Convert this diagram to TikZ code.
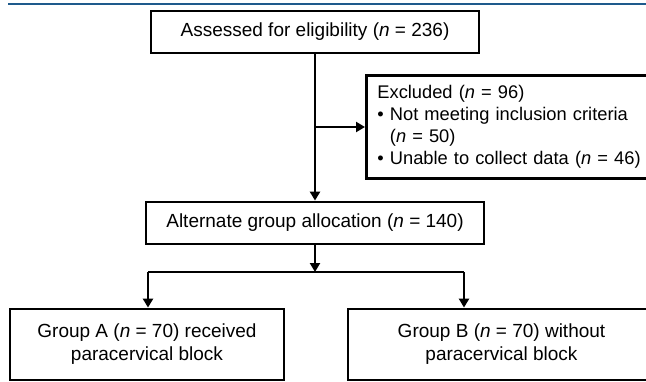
\documentclass[tikz,border=0pt]{standalone}
\usepackage{fontspec}
\setmainfont{Liberation Sans}
\usetikzlibrary{arrows.meta}
\definecolor{rulerblue}{RGB}{30,90,140}
\begin{document}
\begin{tikzpicture}[x=1pt,y=-1pt,
  box/.style={draw, line width=2.8pt, inner sep=0pt, align=center,
    font=\fontsize{19}{23}\selectfont},
  conn/.style={line width=2.3pt, -{Triangle[length=9pt,width=10pt]}},
  plain/.style={line width=2.3pt}]
\useasboundingbox (0,0) rectangle (646,381);
\draw[line width=2.5pt, rulerblue] (8,4) -- (660,4);
\node[box, minimum width=328pt, minimum height=42pt] (top) at (315,32)
  {Assessed for eligibility (\textit{n} = 236)};
\node[box, minimum height=103pt, anchor=north west,
  align=left, text width=280pt, inner xsep=11pt,
  font=\fontsize{18.3}{22}\selectfont] (excl) at (365,74)
  {Excluded (\textit{n} = 96)\\
   • Not meeting inclusion criteria\\
   \phantom{• }(\textit{n} = 50)\\
   • Unable to collect data (\textit{n} = 46)};
\node[box, minimum width=338pt, minimum height=42pt] (alloc) at (315,223)
  {Alternate group allocation (\textit{n} = 140)};
\node[box, minimum width=274pt, minimum height=71pt] (ga) at (147,344.5)
  {Group A (\textit{n} = 70) received\\paracervical block};
\node[box, minimum width=307pt, minimum height=71pt] (gb) at (501.5,344.5)
  {Group B (\textit{n} = 70) without\\paracervical block};
\coordinate (split) at (315,272);
\coordinate (sl) at (148,272);
\coordinate (sr) at (464,272);
\coordinate (branch) at (315,127);
\draw[conn] (top.south -| branch) -- (alloc.north -| branch);
\draw[conn] (branch) -- (excl.west |- branch);
\draw[conn] (alloc.south -| split) -- (split);
\draw[plain] (sl) -- (sr);
\draw[conn] (sl) -- (ga.north -| sl);
\draw[conn] (sr) -- (gb.north -| sr);
\end{tikzpicture}
\end{document}
